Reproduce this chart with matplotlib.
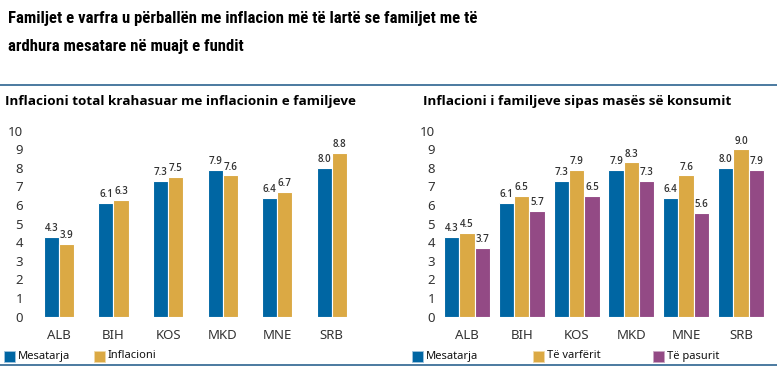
import numpy as np
import matplotlib.pyplot as plt
from matplotlib.patches import Rectangle

countries = ["ALB", "BIH", "KOS", "MKD", "MNE", "SRB"]

# left panel
mesatarja = [4.3, 6.1, 7.3, 7.9, 6.4, 8.0]
inflacioni = [3.9, 6.3, 7.5, 7.6, 6.7, 8.8]

# right panel
te_varferit = [4.5, 6.5, 7.9, 8.3, 7.6, 9.0]
te_pasurit = [3.7, 5.7, 6.5, 7.3, 5.6, 7.9]

BLUE = "#0066a3"
GOLD = "#dba944"
PURPLE = "#934a85"
LINE = "#3d6f98"
TXT = "#333333"

plt.rcParams['font.family'] = ['Noto Sans', 'DejaVu Sans']
TITLE_FONT = ['Liberation Sans Narrow', 'Roboto Condensed', 'Lato', 'DejaVu Sans']
BOLD_FONT = ['Open Sans', 'DejaVu Sans']

W, H = 777, 372
fig = plt.figure(figsize=(W / 100, H / 100), dpi=100)


def px_axes(x0, x1, y_top, y_bot):
    return fig.add_axes([x0 / W, 1 - y_bot / H, (x1 - x0) / W, (y_bot - y_top) / H])


def style(ax):
    for s in ax.spines.values():
        s.set_visible(False)
    ax.set_ylim(0, 10)
    ax.set_yticks(range(11))
    ax.tick_params(length=0, labelsize=9.5, labelcolor=TXT)
    ax.tick_params(axis="y", pad=5)
    ax.tick_params(axis="x", pad=9)
    ax.set_xticks(np.arange(len(countries)))
    ax.set_xticklabels(countries)


def bars(ax, series, colors, width):
    x = np.arange(len(countries))
    n = len(series)
    for i, (vals, c) in enumerate(zip(series, colors)):
        off = (i - (n - 1) / 2) * width
        bs = ax.bar(x + off, vals, width, color=c, edgecolor="white", linewidth=0.8)
        ax.bar_label(bs, labels=[f"{v:.1f}" for v in vals], padding=2,
                     fontsize=7, color=TXT, fontweight="semibold", family=BOLD_FONT)


# left chart
ax1 = px_axes(30, 370, 130.7, 316.7)
bars(ax1, [mesatarja, inflacioni], [BLUE, GOLD], 0.275)
ax1.set_xlim(-0.53, 5.7)
style(ax1)

# right chart
ax2 = px_axes(442, 770, 130.7, 316.7)
bars(ax2, [mesatarja, te_varferit, te_pasurit], [BLUE, GOLD, PURPLE], 0.28)
ax2.set_xlim(-0.456, 5.53)
style(ax2)

# titles
fig.text(8 / W, 1 - 19 / H, "Familjet e varfra u përballën me inflacion më të lartë se familjet me të",
         fontsize=12.1, fontweight="bold", family=TITLE_FONT,
         va="center", ha="left", color="black")
fig.text(8 / W, 1 - 47 / H, "ardhura mesatare në muajt e fundit",
         fontsize=12.1, fontweight="bold", family=TITLE_FONT,
         va="center", ha="left", color="black")
fig.text(5 / W, 1 - 102 / H, "Inflacioni total krahasuar me inflacionin e familjeve",
         fontsize=9.7, fontweight="bold", family=BOLD_FONT, va="center", ha="left", color="black")
fig.text(423 / W, 1 - 102 / H, "Inflacioni i familjeve sipas masës së konsumit",
         fontsize=9.7, fontweight="bold", family=BOLD_FONT, va="center", ha="left", color="black")

# separator lines
fig.add_artist(plt.Line2D([0, 1], [1 - 85 / H] * 2, color=LINE, lw=1.3))
fig.add_artist(plt.Line2D([0, 1], [1 - 365 / H] * 2, color=LINE, lw=1.3))

# legends
legend_items = [(4, BLUE, "Mesatarja"), (94, GOLD, "Inflacioni"),
                (412, BLUE, "Mesatarja"), (533, GOLD, "Të varfërit"), (653, PURPLE, "Të pasurit")]
edge = {BLUE: "#9fc3de", GOLD: "#f0d9a8", PURPLE: "#c9a6c3"}
for x, c, label in legend_items:
    fig.add_artist(Rectangle((x / W, 1 - 361.5 / H), 11 / W, 11 / H, facecolor=c,
                             edgecolor=edge[c], lw=0.6, transform=fig.transFigure))
    fig.text((x + 14) / W, 1 - 356 / H, label, fontsize=8, va="center", ha="left", color="#111111")

fig.savefig("out.png", dpi=100)
